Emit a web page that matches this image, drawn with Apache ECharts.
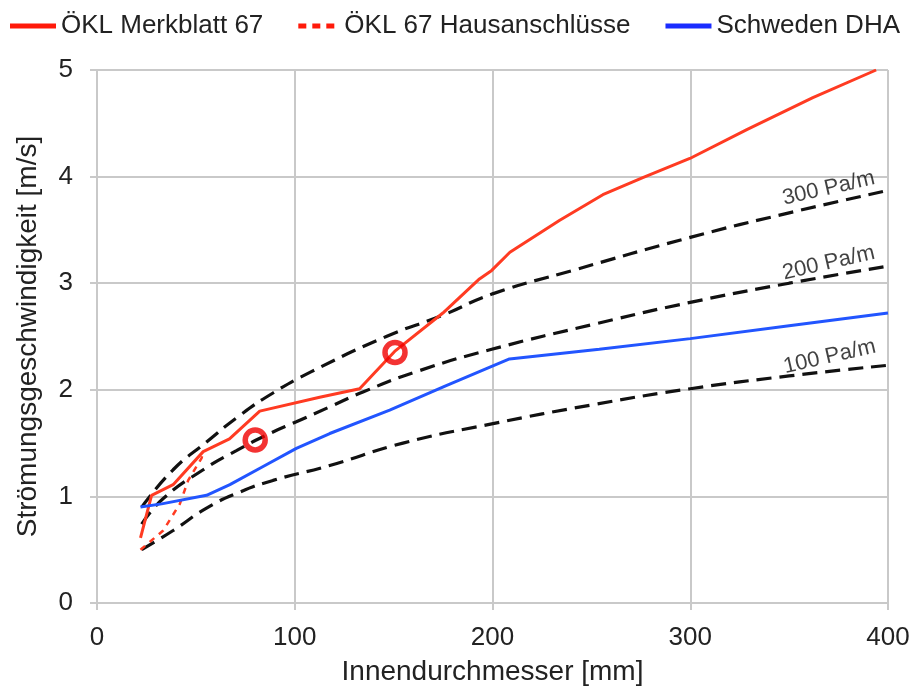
<!DOCTYPE html>
<html>
<head>
<meta charset="utf-8">
<style>
  html, body { margin: 0; padding: 0; background: #fff; }
  #chart { width: 919px; height: 693px; }
</style>
<script src="https://cdn.jsdelivr.net/npm/echarts@6/dist/echarts.min.js"></script>
</head>
<body>
<div id="chart"></div>
<script>
// Werte: [Innendurchmesser mm, Geschwindigkeit m/s]
const xTicks = [0, 100, 200, 300, 400]
const yTicks = [0, 1, 2, 3, 4, 5]

const oklMerkblatt = [
  [22, 0.61], [27.6, 1.01], [38.5, 1.11], [53.7, 1.42], [67, 1.54], [82.3, 1.8],
  [112.6, 1.93], [132.8, 2.01], [150.5, 2.36], [174.9, 2.72], [193.4, 3.04],
  [199.6, 3.12], [208.8, 3.29], [234, 3.59], [255.8, 3.83], [276, 3.99],
  [299.8, 4.17], [328.6, 4.44], [362, 4.74], [394, 5.0]
]
const oklHaus = [
  [22, 0.5], [33.5, 0.68], [41.9, 0.93], [46.1, 1.15], [52.9, 1.36], [53.7, 1.42]
]
const schwedenDHA = [
  [22, 0.9], [32.7, 0.93], [55.4, 1.01], [67.2, 1.11], [84, 1.28], [100.8, 1.45],
  [117.7, 1.59], [148, 1.81], [176.6, 2.04], [199.6, 2.22], [208.6, 2.29],
  [254, 2.38], [300, 2.48], [350, 2.6], [400, 2.72]
]
const pa300 = [
  [22.6, 0.9], [38.5, 1.25], [55.4, 1.51], [72.2, 1.76], [89, 1.97], [108.4, 2.17],
  [146.3, 2.5], [174.9, 2.7], [200, 2.9], [240.6, 3.12], [300, 3.43], [350, 3.66], [400, 3.87]
]
const pa200 = [
  [22.6, 0.74], [33.5, 0.98], [53.7, 1.25], [70.5, 1.43], [87.4, 1.59], [100.8, 1.7],
  [117.7, 1.84], [134.5, 1.98], [163.1, 2.18], [199.6, 2.38], [252.4, 2.62],
  [300, 2.82], [350, 3.0], [400, 3.16]
]
const pa100 = [
  [22.6, 0.5], [38.5, 0.68], [55.4, 0.89], [72.2, 1.04], [89, 1.15], [117.7, 1.29],
  [154.7, 1.5], [199.6, 1.68], [250.7, 1.86], [300, 2.01], [350, 2.13], [400, 2.23]
]
const paLabels = [[370, 3.89, '300 Pa/m'], [370, 3.19, '200 Pa/m'], [370.5, 2.31, '100 Pa/m']]
const circles = [[80, 1.53], [150.7, 2.35]]

const font = 'Liberation Sans, Arial, Helvetica, sans-serif'
const gridColor = '#c9c9c9'
const iconSolid = 'path://M0,0h46v5h-46z'
const iconDashed = 'path://M0,0h8v5h-8zM14,0h8v5h-8zM28,0h8v5h-8z'

const dashed = (name, data) => ({
  name: name,
  type: 'line',
  data: data,
  smooth: true,
  symbol: 'none',
  silent: true,
  lineStyle: { color: '#111', width: 3.2, type: [15, 8] },
  z: 2
})

const myChart = echarts.init(document.getElementById('chart'))
myChart.setOption({
  animation: false,
  textStyle: { fontFamily: font },
  legend: {
    data: [
      { name: 'ÖKL Merkblatt 67', icon: iconSolid },
      { name: 'ÖKL 67 Hausanschlüsse', icon: iconDashed },
      { name: 'Schweden DHA', icon: iconSolid }
    ],
    left: 5,
    top: 8,
    itemWidth: 46,
    itemHeight: 5,
    itemGap: 35,
    textStyle: { fontSize: 26, color: '#222', fontFamily: font }
  },
  grid: { left: 97, right: 31, top: 70, bottom: 90 },
  xAxis: {
    type: 'value',
    min: 0,
    max: 400,
    interval: 100,
    name: 'Innendurchmesser [mm]',
    nameLocation: 'middle',
    nameGap: 55,
    nameTextStyle: { fontSize: 28, color: '#222' },
    axisLine: { show: true, lineStyle: { color: gridColor, width: 2 } },
    axisTick: { show: true, length: 7, lineStyle: { color: gridColor, width: 2 } },
    axisLabel: { fontSize: 26, color: '#222', margin: 22 },
    splitLine: { show: true, lineStyle: { color: gridColor, width: 2 } }
  },
  yAxis: {
    type: 'value',
    min: 0,
    max: 5,
    interval: 1,
    name: 'Strömungsgeschwindigkeit [m/s]',
    nameLocation: 'middle',
    nameGap: 55,
    nameTextStyle: { fontSize: 28, color: '#222' },
    axisLine: { show: true, lineStyle: { color: gridColor, width: 2 } },
    axisTick: { show: true, length: 7, lineStyle: { color: gridColor, width: 2 } },
    axisLabel: { fontSize: 26, color: '#222', margin: 24 },
    splitLine: { show: true, lineStyle: { color: gridColor, width: 2 } }
  },
  series: [
    dashed('300 Pa/m', pa300),
    dashed('200 Pa/m', pa200),
    dashed('100 Pa/m', pa100),
    {
      name: 'ÖKL Merkblatt 67',
      type: 'line',
      data: oklMerkblatt,
      symbol: 'none',
      itemStyle: { color: '#ff1a0a' },
      lineStyle: { color: '#ff3b22', width: 3 },
      z: 3
    },
    {
      name: 'ÖKL 67 Hausanschlüsse',
      type: 'line',
      data: oklHaus,
      symbol: 'none',
      itemStyle: { color: '#ff1a0a' },
      lineStyle: { color: '#ff3b22', width: 2.5, type: [6, 6] },
      z: 3
    },
    {
      name: 'Schweden DHA',
      type: 'line',
      data: schwedenDHA,
      symbol: 'none',
      itemStyle: { color: '#1a2cff' },
      lineStyle: { color: '#2255ff', width: 3 },
      z: 3
    },
    {
      name: 'marker',
      type: 'scatter',
      data: circles,
      symbol: 'circle',
      symbolSize: 20,
      silent: true,
      itemStyle: { color: 'rgba(0,0,0,0)', borderColor: '#f00000', borderWidth: 5.5 },
      z: 5
    },
    {
      name: 'labels',
      type: 'scatter',
      data: paLabels,
      symbolSize: 0,
      silent: true,
      label: {
        show: true,
        position: 'inside',
        rotate: 13,
        fontSize: 22,
        color: '#111',
        formatter: p => p.value[2]
      },
      z: 4
    }
  ]
})
</script>
</body>
</html>
